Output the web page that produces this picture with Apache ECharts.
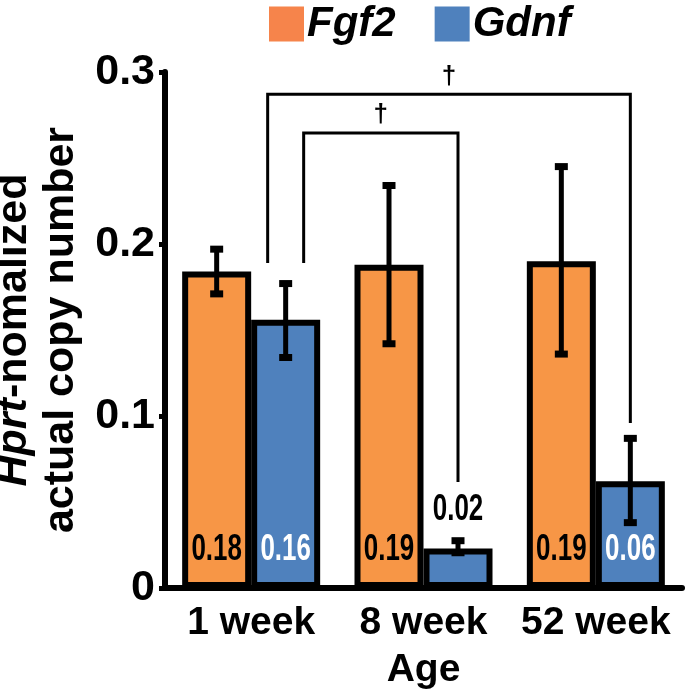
<!DOCTYPE html>
<html><head><meta charset="utf-8">
<script src="https://cdn.jsdelivr.net/npm/echarts@6.0.0/dist/echarts.min.js"></script>
<style>html,body{margin:0;padding:0;background:#fff}#c{width:688px;height:690px}</style>
</head><body><div id="c"></div>
<script>
// ---------- data ----------
const categories = ['1 week', '8 week', '52 week'];
const seriesNames = ['Fgf2', 'Gdnf'];
const fgf2Values = [0.184, 0.188, 0.190];
const gdnfValues = [0.156, 0.023, 0.062];
const fgf2ErrLow = [0.171, 0.142, 0.136];
const fgf2ErrHigh = [0.197, 0.234, 0.245];
const gdnfErrLow = [0.134, 0.0205, 0.038];
const gdnfErrHigh = [0.177, 0.0275, 0.087];
const yTickValues = [0, 0.1, 0.2, 0.3];
// significance brackets between Gdnf bars
const bracketFromCat = [0, 0];
const bracketToCat = [2, 1];
const bracketTop = [0.287, 0.2645];
const bracketFromBottom = [0.189, 0.189];
const bracketToBottom = [0.096, 0.0616];
const bracketMarks = ['\u2020', '\u2020'];

// ---------- style ----------
const FONT = "'Liberation Sans', Arial, Helvetica, sans-serif";
const ORANGE = '#F79646', BLUE = '#4F81BD';
const BAR_W = 69, CAP = 13, CAP_H = 7;
const BRACKET_FROM_OFFSET = [-18, 18];

const chart = echarts.init(document.getElementById('c'), null, {renderer: 'canvas'});

function errSeries(low, high, sign) {
  return {
    type: 'custom', z: 5, silent: true,
    data: low.map((l, i) => [i, l, high[i]]),
    encode: {x: 0, y: [1, 2]},
    renderItem: function (params, api) {
      const cat = api.value(0);
      const x = api.coord([cat, 0])[0] + sign * BAR_W / 2;
      const yLo = api.coord([cat, api.value(1)])[1];
      const yHi = api.coord([cat, api.value(2)])[1];
      return {type: 'group', children: [
        {type: 'line', shape: {x1: x, y1: yHi, x2: x, y2: yLo}, style: {stroke: '#000', lineWidth: 5}},
        {type: 'rect', shape: {x: x - CAP / 2, y: yHi - CAP_H / 2, width: CAP, height: CAP_H}, style: {fill: '#000'}},
        {type: 'rect', shape: {x: x - CAP / 2, y: yLo - CAP_H / 2, width: CAP, height: CAP_H}, style: {fill: '#000'}}
      ]};
    }
  };
}

function labelSeries(values, sign, insideColor) {
  return {
    type: 'custom', z: 6, silent: true,
    data: values.map((v, i) => [i, v]),
    encode: {x: 0, y: 1},
    renderItem: function (params, api) {
      const cat = api.value(0), v = api.value(1);
      const x = api.coord([cat, 0])[0] + sign * BAR_W / 2;
      const y0 = api.coord([cat, 0])[1];
      const yTop = api.coord([cat, v])[1];
      const inside = (y0 - yTop) > 70;
      const cy = inside ? y0 - 38 : yTop - 38;
      return {
        type: 'text', x: x, y: cy, scaleX: 0.72,
        style: {text: v.toFixed(2), x: 0, y: 0, align: 'center', verticalAlign: 'middle',
          fill: inside ? insideColor : '#000', font: 'bold 36px ' + FONT}
      };
    }
  };
}

const bracketSeries = {
  type: 'custom', z: 7, silent: true,
  data: bracketFromCat.map((f, i) => [f, bracketToCat[i], bracketTop[i], bracketFromBottom[i], bracketToBottom[i]]),
  encode: {x: [0, 1], y: [2, 3, 4]},
  renderItem: function (params, api) {
    const i = params.dataIndex;
    const xf = api.coord([api.value(0), 0])[0] + BAR_W / 2 + BRACKET_FROM_OFFSET[i];
    const xt = api.coord([api.value(1), 0])[0] + BAR_W / 2;
    const yT = api.coord([0, api.value(2)])[1];
    const yfb = api.coord([0, api.value(3)])[1];
    const ytb = api.coord([0, api.value(4)])[1];
    return {type: 'group', children: [
      {type: 'polyline', shape: {points: [[xf, yfb], [xf, yT], [xt, yT], [xt, ytb]]},
        style: {stroke: '#000', lineWidth: 3, fill: null}},
      {type: 'text', x: (xf + xt) / 2, y: yT - 5,
        style: {text: bracketMarks[i], x: 0, y: 0, align: 'center', verticalAlign: 'bottom',
          fill: '#000', font: 'bold 26px ' + FONT}}
    ]};
  }
};

const option = {
  animation: false,
  backgroundColor: '#fff',
  textStyle: {fontFamily: FONT},
  legend: {
    data: [{name: seriesNames[0], itemStyle: {color: '#F6844B'}}, {name: seriesNames[1], itemStyle: {color: BLUE}}],
    left: 269, top: 3, padding: 0, icon: 'rect', itemWidth: 35, itemHeight: 35, itemGap: 39,
    itemStyle: {borderWidth: 0},
    textStyle: {fontSize: 42, fontWeight: 'bold', fontStyle: 'italic', color: '#000', fontFamily: FONT, lineHeight: 35, padding: [0, 0, 0, -2]}
  },
  grid: {left: 165, top: 72, width: 517, bottom: 102, containLabel: false, outerBoundsMode: 'none'},
  xAxis: {
    type: 'category', data: categories,
    axisLine: {lineStyle: {color: '#000', width: 6}},
    axisTick: {show: false},
    axisLabel: {interval: 0, hideOverlap: false, fontSize: 39, fontWeight: 'bold', color: '#000', margin: 16, fontFamily: FONT},
    name: 'Age', nameLocation: 'middle', nameGap: 63,
    nameTextStyle: {fontSize: 39, fontWeight: 'bold', color: '#000', fontFamily: FONT}
  },
  yAxis: {
    type: 'value', min: yTickValues[0], max: yTickValues[yTickValues.length - 1], interval: 0.1,
    axisLine: {show: true, lineStyle: {color: '#000', width: 6}},
    axisTick: {show: true, length: 6, lineStyle: {color: '#000', width: 5}},
    splitLine: {show: false},
    axisLabel: {fontSize: 43, fontWeight: 'bold', color: '#000', margin: 10, fontFamily: FONT},
    name: '{it|Hprt}{n|-nomalized}\n{n|actual copy number}',
    nameLocation: 'middle', nameRotate: 90, nameGap: 76,
    nameTextStyle: {
      fontSize: 43, fontWeight: 'bold', color: '#000', lineHeight: 47, fontFamily: FONT,
      rich: {
        it: {fontSize: 43, fontWeight: 'bold', fontStyle: 'italic', color: '#000', lineHeight: 47, fontFamily: FONT},
        n: {fontSize: 43, fontWeight: 'bold', color: '#000', lineHeight: 47, fontFamily: FONT}
      }
    }
  },
  series: [
    {type: 'bar', name: seriesNames[0], data: fgf2Values, barWidth: BAR_W, barGap: '0%', z: 2,
      itemStyle: {color: ORANGE, borderColor: '#000', borderWidth: 6}},
    {type: 'bar', name: seriesNames[1], data: gdnfValues, barWidth: BAR_W, barGap: '0%', z: 2,
      itemStyle: {color: BLUE, borderColor: '#000', borderWidth: 6}},
    errSeries(fgf2ErrLow, fgf2ErrHigh, -1),
    errSeries(gdnfErrLow, gdnfErrHigh, 1),
    labelSeries(fgf2Values, -1, '#000'),
    labelSeries(gdnfValues, 1, '#fff'),
    bracketSeries
  ]
};
chart.setOption(option);
</script>
</body></html>
